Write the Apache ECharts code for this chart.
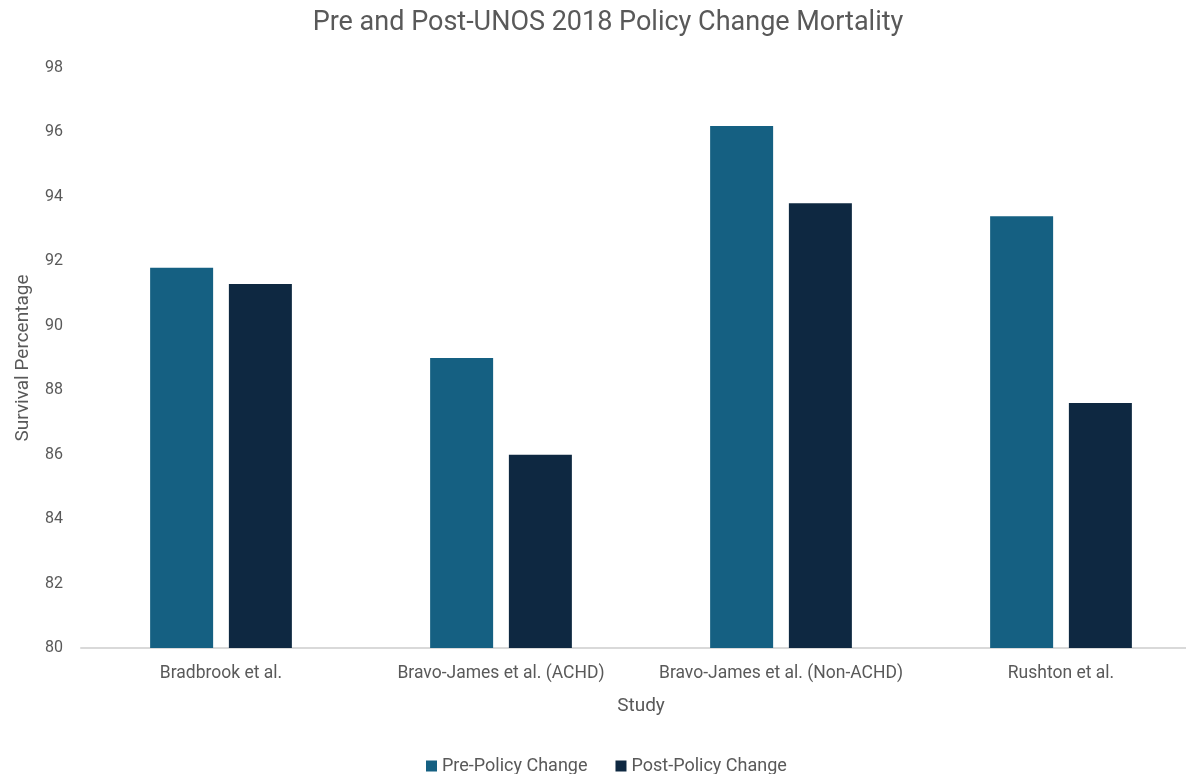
<!DOCTYPE html>
<html>
<head>
<meta charset="utf-8">
<script src="https://cdn.jsdelivr.net/npm/echarts@6/dist/echarts.min.js"></script>
<style>
  html, body { margin: 0; padding: 0; background: #fff; overflow: hidden; }
  /* the plot area runs a little past the right edge, as in the source image */
  #main { width: 1201px; height: 774px; }
</style>
</head>
<body>
<div id="main"></div>
<script>
// chart data
var studies = ['Bradbrook et al.', 'Bravo-James et al. (ACHD)', 'Bravo-James et al. (Non-ACHD)', 'Rushton et al.'];
var preValues = [91.8, 89.0, 96.2, 93.4];
var postValues = [91.3, 86.0, 93.8, 87.6];
var seriesNames = ['Pre-Policy Change', 'Post-Policy Change'];

var chartDom = document.getElementById('main');
var myChart = echarts.init(chartDom);
var textColor = '#595959';
var font = 'Roboto';

var option = {
  backgroundColor: '#ffffff',
  animation: false,
  title: {
    text: 'Pre and Post-UNOS 2018 Policy Change Mortality',
    left: 603,
    textAlign: 'center',
    top: 5,
    textStyle: {
      color: textColor,
      fontSize: 27,
      fontWeight: 'normal',
      fontFamily: font
    }
  },
  legend: {
    data: seriesNames,
    top: 752,
    left: 421,
    itemWidth: 11,
    itemHeight: 11,
    itemGap: 28,
    icon: 'rect',
    textStyle: {
      color: textColor,
      fontSize: 18,
      fontFamily: font
    }
  },
  grid: {
    left: 81,
    right: 0,
    top: 68,
    bottom: 126
  },
  xAxis: {
    type: 'category',
    data: studies,
    name: 'Study',
    nameLocation: 'middle',
    nameGap: 49,
    nameTextStyle: { color: textColor, fontSize: 19, fontFamily: font },
    axisLine: { lineStyle: { color: '#d9d9d9', width: 2 } },
    axisTick: { show: false },
    axisLabel: { color: textColor, fontSize: 17.5, fontFamily: font, margin: 17, interval: 0 }
  },
  yAxis: {
    type: 'value',
    min: 80,
    max: 98,
    interval: 2,
    name: 'Survival Percentage',
    nameLocation: 'middle',
    nameGap: 48,
    nameTextStyle: { color: textColor, fontSize: 19, fontFamily: font },
    axisLine: { show: false },
    axisTick: { show: false },
    splitLine: { show: false },
    axisLabel: { color: textColor, fontSize: 16, fontFamily: font, margin: 18 }
  },
  series: [
    {
      name: seriesNames[0],
      type: 'bar',
      data: preValues,
      barWidth: 63,
      barGap: '25%',
      itemStyle: { color: '#156082' }
    },
    {
      name: seriesNames[1],
      type: 'bar',
      data: postValues,
      barWidth: 63,
      itemStyle: { color: '#0E2841' }
    }
  ]
};
myChart.setOption(option);
</script>
</body>
</html>
